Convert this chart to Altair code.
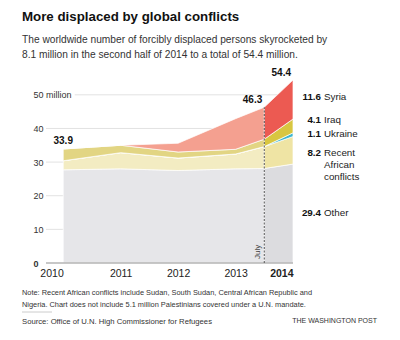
import json
import altair as alt
import pandas as pd

FONT = "Liberation Sans"

# ---- data ----
periods = [0, 1, 2, 3, 3.5, 4]          # 0=2010 ... 3.5=July 2014, 4=end 2014
year_labels = ["2010", "2011", "2012", "2013", "2014"]
series_names = ["Other", "Recent African conflicts", "Ukraine", "Iraq", "Syria"]
other = [27.7, 28.0, 27.5, 28.0, 28.1, 29.4]
african = [2.7, 4.8, 3.7, 4.4, 6.5, 8.2]
ukraine = [0, 0, 0, 0, 0, 1.1]
iraq = [3.5, 2.2, 1.8, 1.4, 2.2, 4.1]
syria = [0, 0, 2.6, 9.1, 9.5, 11.6]
colors_before = ["#e6e6e9", "#f3ecc2", "#3db6cf", "#e2d583", "#f4a090"]
colors_after = ["#dcdcdf", "#efe4a4", "#3db6cf", "#d8c640", "#ec5a52"]

label_values = ["29.4", "8.2", "1.1", "4.1", "11.6"]
label_names = ["Other", "Recent\nAfrican\nconflicts", "Ukraine", "Iraq", "Syria"]
label_y = [14.9, 32.7, 38.4, 42.6, 49.4]

grid_vals = [10, 20, 30, 40, 50]
grid_start = [-0.3, -0.3, -0.3, -0.3, 0.2]
y_ticks = [0, 10, 20, 30, 40, 50]

title = "More displaced by global conflicts"
subtitle = ["The worldwide number of forcibly displaced persons skyrocketed by",
            "8.1 million in the second half of 2014 to a total of 54.4 million."]
note = ("Note: Recent African conflicts include Sudan, South Sudan, Central African Republic and\n"
        "Nigeria. Chart does not include 5.1 million Palestinians covered under a U.N. mandate.")
source = "Source: Office of U.N. High Commissioner for Refugees"
credit = "THE WASHINGTON POST"

# ---- build stacked table ----
values = [other, african, ukraine, iraq, syria]
rows = []
base = [0.0] * len(periods)
for i, name in enumerate(series_names):
    for j, t in enumerate(periods):
        lo = base[j]
        hi = lo + values[i][j]
        if t <= 3.5:
            rows.append({"t": t, "lo": lo, "hi": hi, "key": name + " before"})
        if t >= 3.5:
            rows.append({"t": t, "lo": lo, "hi": hi, "key": name + " after"})
    base = [base[j] + values[i][j] for j in range(len(periods))]
totals = base
df = pd.DataFrame(rows)
keys = [n + " before" for n in series_names] + [n + " after" for n in series_names]
key_colors = colors_before + colors_after

xscale = alt.Scale(domain=[-0.3, 4], nice=False, zero=False)
yscale = alt.Scale(domain=[0, 55], nice=False)

xaxis = alt.Axis(
    values=[0, 1, 2, 3, 4],
    labelExpr=json.dumps(year_labels) + "[datum.value]",
    labelAlign=alt.ExprRef(expr="datum.value == 0 || datum.value == 4 ? 'right' : 'center'"),
    labelFontWeight=alt.ExprRef(expr="datum.value == 4 ? 'bold' : 'normal'"),
    labelFlush=False, ticks=False, domain=False, grid=False, labelPadding=5,
    labelFontSize=10.5, labelColor="#222", labelFont=FONT, title=None,
)
yaxis = alt.Axis(
    values=y_ticks,
    labelExpr="datum.value == 50 ? '50 million' : datum.label",
    labelAlign="left", labelBaseline="middle", labelPadding=13,
    labelFontWeight=alt.ExprRef(expr="datum.value == 0 ? 'bold' : 'normal'"),
    ticks=False, domain=False, grid=False, labelFontSize=9, labelColor="#333",
    labelFont=FONT, title=None,
)

X = lambda f="t": alt.X(f, type="quantitative", scale=xscale, axis=xaxis)
Y = lambda f="v": alt.Y(f, type="quantitative", scale=yscale, axis=yaxis)

grid_df = pd.DataFrame({"t": grid_start, "t2": [4] * len(grid_vals), "v": grid_vals})
grid = alt.Chart(grid_df).mark_rule(color="#e2e2e2", strokeWidth=1).encode(
    x=X("t"), x2="t2", y=Y("v"))

areas = alt.Chart(df).mark_area(stroke="white", strokeWidth=0.7, interpolate="linear").encode(
    x=X("t"), y=Y("hi"), y2="lo",
    color=alt.Color("key:N", scale=alt.Scale(domain=keys, range=key_colors), legend=None),
)

base_df = pd.DataFrame({"t": [-0.3], "t2": [4], "v": [0]})
baseline = alt.Chart(base_df).mark_rule(color="#b5b5b5", strokeWidth=1.5).encode(
    x=X("t"), x2="t2", y=Y("v"))

july_df = pd.DataFrame({"t": [3.5], "v": [0], "v2": [totals[4]]})
july = alt.Chart(july_df).mark_rule(color="#555", strokeWidth=1, strokeDash=[2, 1.5]).encode(
    x=X("t"), y=Y("v"), y2="v2")
july_txt = alt.Chart(pd.DataFrame({"t": [3.5], "v": [1.2], "s": ["July"]})).mark_text(
    angle=270, align="left", baseline="bottom", dy=-2, fontSize=8, font=FONT, color="#444"
).encode(x=X("t"), y=Y("v"), text="s")

tot_df = pd.DataFrame({"t": [periods[0], periods[4], periods[5]],
                       "v": [totals[0], totals[4], totals[5]]})
tot_df["s"] = tot_df["v"].map(lambda x: f"{x:.1f}")
tot_first = alt.Chart(tot_df.iloc[[0]]).mark_text(
    align="center", baseline="bottom", dy=-3, fontSize=10, fontWeight="bold", font=FONT, color="#111"
).encode(x=X("t"), y=Y("v"), text="s")
tot_rest = alt.Chart(tot_df.iloc[1:]).mark_text(
    align="right", baseline="bottom", dx=-2, dy=-2, fontSize=10, fontWeight="bold", font=FONT, color="#111"
).encode(x=X("t"), y=Y("v"), text="s")

lab_df = pd.DataFrame({"t": [4] * len(label_y), "v": label_y, "num": label_values, "name": label_names})
lab_num = alt.Chart(lab_df).mark_text(
    align="right", baseline="middle", dx=28, fontSize=9.8, fontWeight="bold", font=FONT, color="#111"
).encode(x=X("t"), y=Y("v"), text="num")
lab_name = alt.Chart(lab_df).mark_text(
    align="left", baseline="middle", dx=31, fontSize=9.8, font=FONT, color="#222",
    lineBreak="\n", lineHeight=12
).encode(x=X("t"), y=Y("v"), text="name")

one = alt.Data(values=[{}])
note_txt = alt.Chart(one).mark_text(
    text=note, align="left", baseline="middle", fontSize=7.4, font=FONT, color="#333",
    lineBreak="\n", lineHeight=11.5
).encode(x=alt.value(-24), y=alt.value(215))
sep = alt.Chart(one).mark_rule(color="#cccccc", strokeWidth=1).encode(
    x=alt.value(-24), x2=alt.value(6), y=alt.value(234))
src_txt = alt.Chart(one).mark_text(
    text=source, align="left", baseline="middle", fontSize=7.7, font=FONT, color="#333"
).encode(x=alt.value(-24), y=alt.value(244))
credit_txt = alt.Chart(one).mark_text(
    text=credit, align="right", baseline="middle", fontSize=7, font=FONT, color="#333"
).encode(x=alt.value(331), y=alt.value(243))

chart = alt.layer(
    grid, areas, baseline, july, july_txt, tot_first, tot_rest, lab_num, lab_name,
    note_txt, sep, src_txt, credit_txt
).properties(
    width=247, height=185,
    autosize=alt.AutoSizeParams(type="none"),
    padding={"left": 46, "top": 78, "right": 107, "bottom": 77},
    background="white",
    title=alt.TitleParams(
        text=title, subtitle=subtitle, anchor="start", frame="group", dx=-24,
        fontSize=13.3, font=FONT, fontWeight="bold", color="#111",
        subtitleFont=FONT, subtitleFontSize=10.2, subtitleColor="#333",
        subtitleLineHeight=15, subtitlePadding=12, offset=8,
    ),
).configure_view(stroke=None)

chart.save("out.html", embed_options={"renderer": "svg", "actions": False})
